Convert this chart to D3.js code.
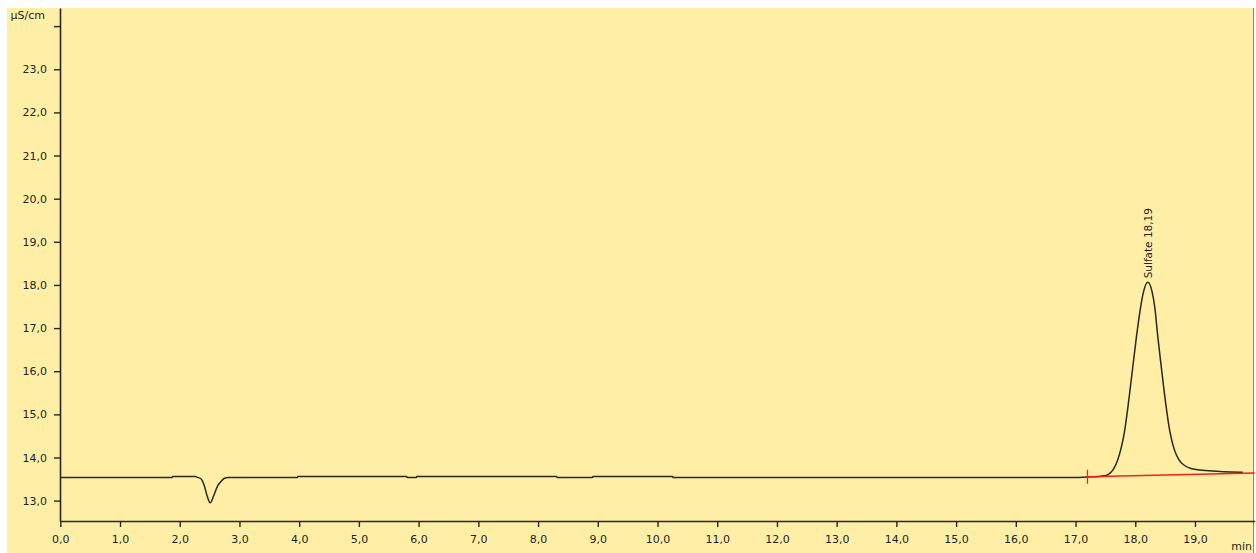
<!DOCTYPE html>
<html><head><meta charset="utf-8">
<script src="https://cdn.jsdelivr.net/npm/d3@7"></script>
<style>
html,body{margin:0;padding:0;background:#fff;}
svg{display:block;}
text{font-family:"DejaVu Sans",Verdana,sans-serif;fill:#1e1e1e;}
</style></head>
<body>
<svg id="chart" width="1256" height="553"></svg>
<script>
// ---- data ----
const traceTime = [0, 1.87, 1.88, 2.26, 2.30, 2.36, 2.41, 2.46, 2.51, 2.57, 2.63, 2.70, 2.75, 2.81,
  3.97, 3.98, 5.80, 5.81, 5.96, 5.97, 8.31, 8.32, 8.91, 8.92, 10.25, 10.26,
  17.00, 17.20, 17.40, 17.48, 17.55, 17.63, 17.70, 17.76, 17.82, 17.88, 17.95, 18.02, 18.08, 18.14,
  18.21, 18.28, 18.33, 18.37, 18.44, 18.51, 18.58, 18.65, 18.73, 18.82, 18.95, 19.08, 19.36, 19.60, 19.80];
const traceSignal = [13.535, 13.535, 13.558, 13.558, 13.54, 13.50, 13.35, 13.10, 12.95, 13.12, 13.33, 13.46, 13.52, 13.535,
  13.535, 13.558, 13.558, 13.535, 13.535, 13.558, 13.558, 13.535, 13.535, 13.558, 13.558, 13.535,
  13.535, 13.55, 13.56, 13.575, 13.61, 13.72, 13.92, 14.20, 14.60, 15.20, 16.00, 16.80, 17.40, 17.85,
  18.06, 17.85, 17.45, 16.90, 16.05, 15.25, 14.60, 14.20, 13.95, 13.82, 13.74, 13.71, 13.68, 13.665, 13.66];
const baselineTime = [17.20, 20.0];
const baselineSignal = [13.553, 13.64];
const peakName = "Sulfate";
const peakLabelTime = "18,19";
const peakTime = 18.21;
const peakSignalTop = 18.06;
const yTicks = [13, 14, 15, 16, 17, 18, 19, 20, 21, 22, 23, 24];
const xTicks = [0, 1, 2, 3, 4, 5, 6, 7, 8, 9, 10, 11, 12, 13, 14, 15, 16, 17, 18, 19];
const yUnit = "µS/cm";
const xUnit = "min";

// ---- layout ----
const svg = d3.select("#chart");
const W = 1256, H = 553;
const fmt = v => v.toFixed(1).replace(".", ",");
const FS = "11px";

svg.append("rect").attr("x", 7).attr("y", 8).attr("width", 1246).attr("height", H - 8).attr("fill", "#FFEFA6");
svg.append("rect").attr("x", 1253).attr("y", 8).attr("width", 1).attr("height", H - 8).attr("fill", "#8a877a");

const x = d3.scaleLinear().domain([0, 20]).range([60.3, 1254.7]);
const y = d3.scaleLinear().domain([12.535, 24.42]).range([520.7, 8]);

// axes
const yAxis = d3.axisLeft(y).tickValues(yTicks).tickSize(6).tickSizeOuter(0).tickPadding(7)
  .tickFormat(d => d === 24 ? "" : fmt(d));
const gy = svg.append("g").attr("transform", "translate(60,0)").call(yAxis);
const xAxis = d3.axisBottom(x).tickValues(xTicks).tickSize(6).tickSizeOuter(0).tickPadding(8)
  .tickFormat(fmt);
const gx = svg.append("g").attr("transform", "translate(0,521)").call(xAxis);
[gy, gx].forEach(g => {
  g.selectAll("path.domain").attr("stroke", "#2a2718").attr("stroke-width", 1.6);
  g.selectAll(".tick line").attr("stroke", "#2a2718").attr("stroke-width", 1.4);
  g.selectAll(".tick text").style("font-family", '"DejaVu Sans",Verdana,sans-serif')
    .style("font-size", FS).attr("fill", "#1e1e1e");
});

svg.append("text").attr("x", 45).attr("y", 19).attr("text-anchor", "end")
  .style("font-size", FS).text(yUnit);
svg.append("text").attr("x", 1252).attr("y", 550).attr("text-anchor", "end")
  .style("font-size", FS).text(xUnit);

// trace
const trace = traceTime.map((t, i) => [t, traceSignal[i]]);
const line = d3.line().x(d => x(d[0])).y(d => y(d[1])).curve(d3.curveMonotoneX);
svg.append("path").datum(trace).attr("d", line).attr("fill", "none")
  .attr("stroke", "#2a2718").attr("stroke-width", 1.5);

// integration baseline
const base = baselineTime.map((t, i) => [t, baselineSignal[i]]);
svg.append("path").datum(base).attr("d", d3.line().x(d => x(d[0])).y(d => y(d[1])))
  .attr("fill", "none").attr("stroke", "#f0201a").attr("stroke-width", 1.4);
svg.append("line").attr("x1", x(baselineTime[0])).attr("x2", x(baselineTime[0]))
  .attr("y1", y(baselineSignal[0]) - 7).attr("y2", y(baselineSignal[0]) + 7)
  .attr("stroke", "#f0201a").attr("stroke-width", 1.3);

// peak label
const lx = x(peakTime) + 4, ly = y(peakSignalTop) - 4;
svg.append("text").attr("transform", `translate(${lx},${ly}) rotate(-90)`)
  .attr("text-anchor", "start").style("font-size", "10.5px")
  .text(peakName + " " + peakLabelTime);
</script>
</body></html>
